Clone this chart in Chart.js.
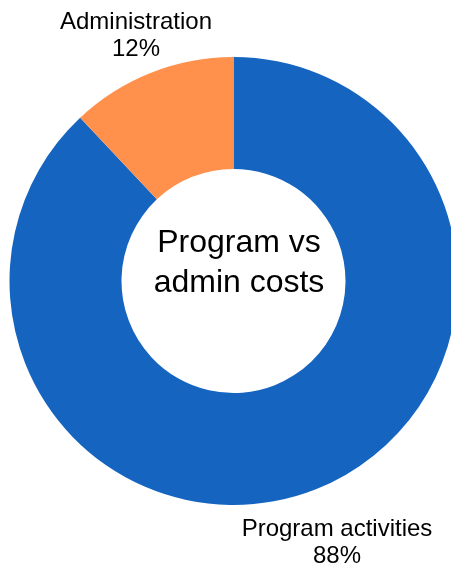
<!DOCTYPE html>
<html>
<head>
<meta charset="utf-8">
<script src="https://cdn.jsdelivr.net/npm/chart.js@4/dist/chart.umd.min.js"></script>
<style>
  html, body { margin: 0; padding: 0; background: #fff; overflow: hidden; }
  #wrap { position: relative; width: 470px; height: 569px; }
</style>
</head>
<body>
<div id="wrap"><canvas id="c"></canvas></div>
<script>
// budget split
const categories = ['Program activities', 'Administration'];
const shares = [88, 12];
const sliceColors = ['#1565C0', '#FF914D'];
const centerLines = ['Program vs', 'admin costs'];

const FONT = '"Liberation Sans", Arial, sans-serif';

// outside labels at each slice's mid angle, plus the title in the hole
const labelPlugin = {
  id: 'sliceLabels',
  afterDatasetsDraw(chart) {
    const ctx = chart.ctx;
    const meta = chart.getDatasetMeta(0);
    ctx.save();
    ctx.fillStyle = '#000';
    ctx.textAlign = 'center';
    ctx.textBaseline = 'alphabetic';

    ctx.font = '24px ' + FONT;
    meta.data.forEach((arc, i) => {
      const p = arc.getProps(['x', 'y', 'startAngle', 'endAngle', 'outerRadius'], true);
      const mid = (p.startAngle + p.endAngle) / 2;
      const r = p.outerRadius + 49;
      const cx = p.x + Math.cos(mid) * r + 3;
      const cy = p.y + Math.sin(mid) * r + 7;
      const lines = [categories[i], shares[i] + '%'];
      lines.forEach((t, k) => {
        ctx.fillText(t, cx, cy + 8 + (k - (lines.length - 1) / 2) * 27);
      });
    });

    const a0 = meta.data[0];
    ctx.font = '32px ' + FONT;
    ctx.fillText(centerLines[0], a0.x + 5.5, a0.y - 29);
    ctx.fillText(centerLines[1], a0.x + 5.5, a0.y + 11);
    ctx.restore();
  }
};

new Chart(document.getElementById('c'), {
  type: 'doughnut',
  data: {
    labels: categories,
    datasets: [{
      data: shares,
      backgroundColor: sliceColors,
      borderWidth: 0
    }]
  },
  options: {
    responsive: true,
    maintainAspectRatio: false,
    animation: false,
    cutout: '50%',
    layout: { padding: { left: 9.5, right: 12.5, top: 57, bottom: 64 } },
    plugins: {
      legend: { display: false },
      tooltip: { enabled: false }
    }
  },
  plugins: [labelPlugin]
});
</script>
</body>
</html>
